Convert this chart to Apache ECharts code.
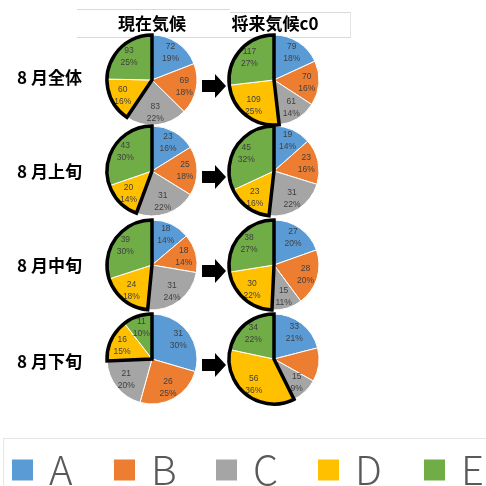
<!DOCTYPE html>
<html>
<head>
<meta charset="utf-8">
<script src="https://cdn.jsdelivr.net/npm/echarts@6/dist/echarts.min.js"></script>
<style>
  html, body { margin: 0; padding: 0; background: #fff; }
  #chart { width: 486px; height: 486px; }
</style>
</head>
<body>
<div id="chart"></div>
<script>
// Weather type shares for August, present climate vs future climate c0
const categories = ['A', 'B', 'C', 'D', 'E'];
const periods = ['8 月全体', '8 月上旬', '8 月中旬', '8 月下旬'];
const climates = ['現在気候', '将来気候c0'];
const current = [
  [72, 69, 83, 60, 93],
  [23, 25, 31, 20, 43],
  [18, 18, 31, 24, 39],
  [31, 26, 21, 16, 11]
];
const future = [
  [79, 70, 61, 109, 117],
  [19, 23, 31, 23, 45],
  [27, 28, 15, 30, 38],
  [33, 19, 15, 56, 34]
];
const colors = ['#5B9BD5', '#ED7D31', '#A5A5A5', '#FFC000', '#70AD47'];

const FONT = '"Noto Sans CJK JP", "Noto Sans", sans-serif';
const colX = [152, 274];
const rowY = [80, 171, 265, 359];
const R = 45;
const legendLeft = [10, 112, 214, 316, 422];

const chart = echarts.init(document.getElementById('chart'), null, { renderer: 'canvas' });

function pieSeries(values, cx, cy) {
  const items = values.map((v, i) => ({ name: categories[i], value: v }));
  const base = {
    type: 'pie',
    center: [cx, cy],
    startAngle: 90,
    clockwise: true,
    animation: false,
    silent: true,
    percentPrecision: 0,
    labelLine: { show: false }
  };
  // coloured slices
  const fill = Object.assign({}, base, {
    radius: [0, R],
    data: items,
    itemStyle: { borderColor: '#fff', borderWidth: 1 },
    label: { show: false }
  });
  // value / share labels placed part way out
  const labels = Object.assign({}, base, {
    radius: [R * 0.33, R],
    data: items,
    itemStyle: { color: 'rgba(0,0,0,0)', borderWidth: 0 },
    label: {
      show: true,
      position: 'inside',
      formatter: '{c}\n{d}%',
      color: '#404040',
      fontSize: 8.5,
      lineHeight: 12,
      fontFamily: '"Liberation Sans", sans-serif'
    },
    z: 3
  });
  // bold outline around the D + E group
  const rest = values[0] + values[1] + values[2];
  const group = values[3] + values[4];
  const outline = Object.assign({}, base, {
    radius: [0, R],
    data: [
      { name: 'ABC', value: rest, itemStyle: { color: 'rgba(0,0,0,0)', borderWidth: 0 } },
      { name: 'DE', value: group, itemStyle: { color: 'rgba(0,0,0,0)', borderColor: '#000', borderWidth: 3.5, borderJoin: 'miter' } }
    ],
    label: { show: false },
    z: 4
  });
  return [fill, labels, outline];
}

const series = [];
rowY.forEach((cy, r) => {
  series.push(...pieSeries(current[r], colX[0], cy));
  series.push(...pieSeries(future[r], colX[1], cy));
});

// block arrows between the two pies of each row
function arrow(cy) {
  const y = cy + 6;
  return {
    type: 'polygon',
    silent: true,
    shape: {
      points: [
        [202, y - 6], [215, y - 6], [215, y - 12], [226, y],
        [215, y + 12], [215, y + 6], [202, y + 6]
      ]
    },
    style: { fill: '#000' }
  };
}

const graphic = [
  // header lines
  { type: 'line', shape: { x1: 77, y1: 9.5, x2: 230, y2: 9.5 }, style: { stroke: '#d9d9d9', lineWidth: 1 } },
  { type: 'line', shape: { x1: 230, y1: 12.5, x2: 351, y2: 12.5 }, style: { stroke: '#d9d9d9', lineWidth: 1 } },
  { type: 'line', shape: { x1: 77, y1: 37.5, x2: 351, y2: 37.5 }, style: { stroke: '#d9d9d9', lineWidth: 1 } },
  { type: 'line', shape: { x1: 350.5, y1: 12.5, x2: 350.5, y2: 37.5 }, style: { stroke: '#e6e6e6', lineWidth: 1 } },
  // legend frame
  { type: 'line', shape: { x1: 3, y1: 438.5, x2: 486, y2: 438.5 }, style: { stroke: '#e6e6e6', lineWidth: 1 } },
  { type: 'line', shape: { x1: 3.5, y1: 438.5, x2: 3.5, y2: 486 }, style: { stroke: '#e6e6e6', lineWidth: 1 } }
];
climates.forEach((t, i) => {
  graphic.push({
    type: 'text', silent: true,
    style: {
      text: t, x: colX[i] + (i === 1 ? 1 : 0), y: 24,
      align: 'center', verticalAlign: 'middle',
      font: 'bold 17px ' + FONT, fill: '#000'
    }
  });
});
periods.forEach((t, r) => {
  graphic.push({
    type: 'text', silent: true,
    style: {
      text: t, x: 17, y: [78, 172, 266, 362][r],
      align: 'left', verticalAlign: 'middle',
      font: 'bold 17px ' + FONT, fill: '#000'
    }
  });
  graphic.push(arrow(rowY[r]));
});

// one legend entry per category, laid out along the bottom strip
const legends = categories.map((c, i) => ({
  data: [c],
  selectedMode: false,
  orient: 'horizontal',
  left: legendLeft[i],
  top: 450,
  padding: 0,
  itemWidth: 23,
  itemHeight: 23,
  icon: 'rect',
  textStyle: {
    fontSize: 40,
    lineHeight: 23,
    color: '#595959',
    fontFamily: FONT,
    fontWeight: 300,
    padding: [0, 0, 17, 10]
  }
}));

chart.setOption({
  animation: false,
  color: colors,
  legend: legends,
  graphic: graphic,
  series: series
});
</script>
</body>
</html>
